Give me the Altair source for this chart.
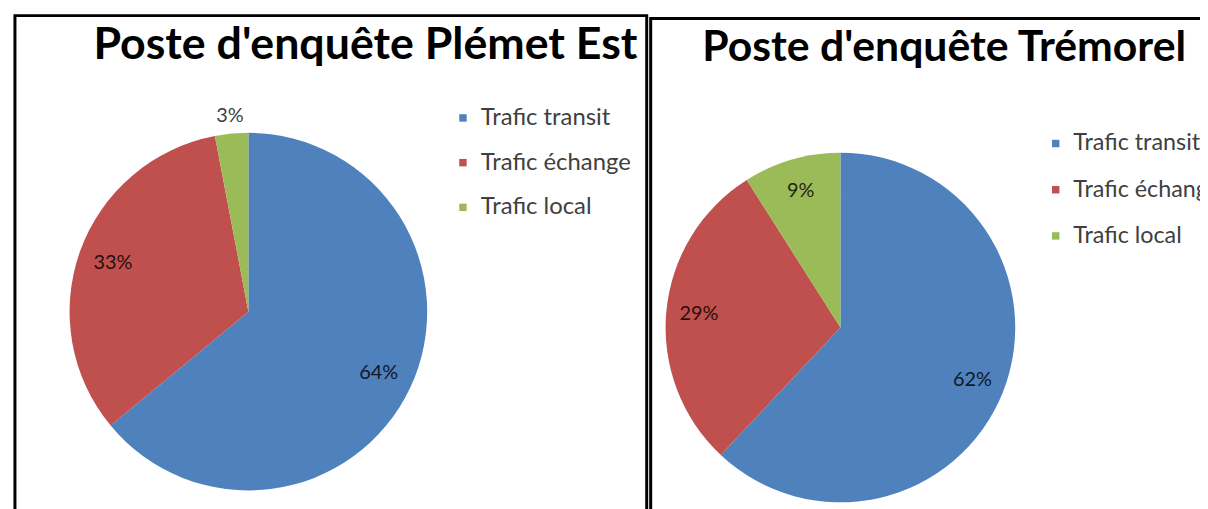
import altair as alt
import pandas as pd

categories = ["Trafic transit", "Trafic échange", "Trafic local"]
plemet_values = [64, 33, 3]
tremorel_values = [62, 29, 9]
titles = ["Poste d'enquête Plémet Est", "Poste d'enquête Trémorel"]
colors = ["#4F81BD", "#C0504D", "#9BBB59"]

FONT = "Lato"


def make_df(vals):
    return pd.DataFrame({
        "categorie": categories,
        "valeur": vals,
        "ordre": list(range(len(categories))),
    })


def pie(df, cx, cy, r, lab_r, lab_r_out, lx, ly, lsize, rowpad):
    base = alt.Chart(df).transform_calculate(
        label="datum.valeur + '%'"
    ).encode(
        theta=alt.Theta("valeur:Q", stack=True),
        order=alt.Order("ordre:Q"),
        x=alt.value(cx),
        y=alt.value(cy),
    )
    arc = base.mark_arc(radius=r).encode(
        color=alt.Color(
            "categorie:N",
            scale=alt.Scale(domain=categories, range=colors),
            legend=alt.Legend(
                title=None, orient="none", legendX=lx, legendY=ly,
                symbolType="square", symbolSize=56, symbolStrokeWidth=0,
                labelFont=FONT, labelFontSize=lsize, labelColor="#404040",
                rowPadding=rowpad, labelOffset=6, padding=0,
                labelLimit=400,
            ),
        )
    )
    inner = base.mark_text(radius=lab_r, font=FONT, fontSize=20,
                           color="#000000", opacity=0.8).encode(
        text=alt.condition("datum.valeur >= 5", "label:N", alt.value(""))
    )
    outer = base.mark_text(radius=lab_r_out, font=FONT, fontSize=20,
                           color="#404040").encode(
        text=alt.condition("datum.valeur < 5", "label:N", alt.value(""))
    )
    return alt.layer(arc, inner, outer)


dummy = pd.DataFrame({"k": [0]})

border_left = alt.Chart(dummy).mark_rect(
    filled=False, stroke="#000000", strokeWidth=3
).encode(x=alt.value(7), x2=alt.value(643), y=alt.value(6), y2=alt.value(700))

border_right = alt.Chart(dummy).mark_rect(
    filled=False, stroke="#000000", strokeWidth=3
).encode(x=alt.value(647), x2=alt.value(1400), y=alt.value(9), y2=alt.value(700))

title_left = alt.Chart(dummy).mark_text(
    font=FONT, fontSize=45, fontWeight="bold", align="left",
    baseline="alphabetic", color="#000000"
).encode(x=alt.value(86), y=alt.value(50), text=alt.value(titles[0]))

title_right = alt.Chart(dummy).mark_text(
    font=FONT, fontSize=43, fontWeight="bold", align="left",
    baseline="alphabetic", color="#000000"
).encode(x=alt.value(699), y=alt.value(52), text=alt.value(titles[1]))

left_pie = pie(make_df(plemet_values), 242, 304, 180, 145, 198, 446, 97, 24, 21)
right_pie = pie(make_df(tremorel_values), 838, 320, 176, 143, 190, 1043, 123, 23.5, 21.5)

chart = alt.layer(
    border_left, border_right, title_left, title_right, left_pie, right_pie
).resolve_scale(
    color="independent", theta="independent"
).properties(
    width=1200, height=501, padding=0, autosize=alt.AutoSizeParams(type="none")
).configure_view(stroke=None)

chart.save("out.html", embed_options={"renderer": "svg", "actions": False})
